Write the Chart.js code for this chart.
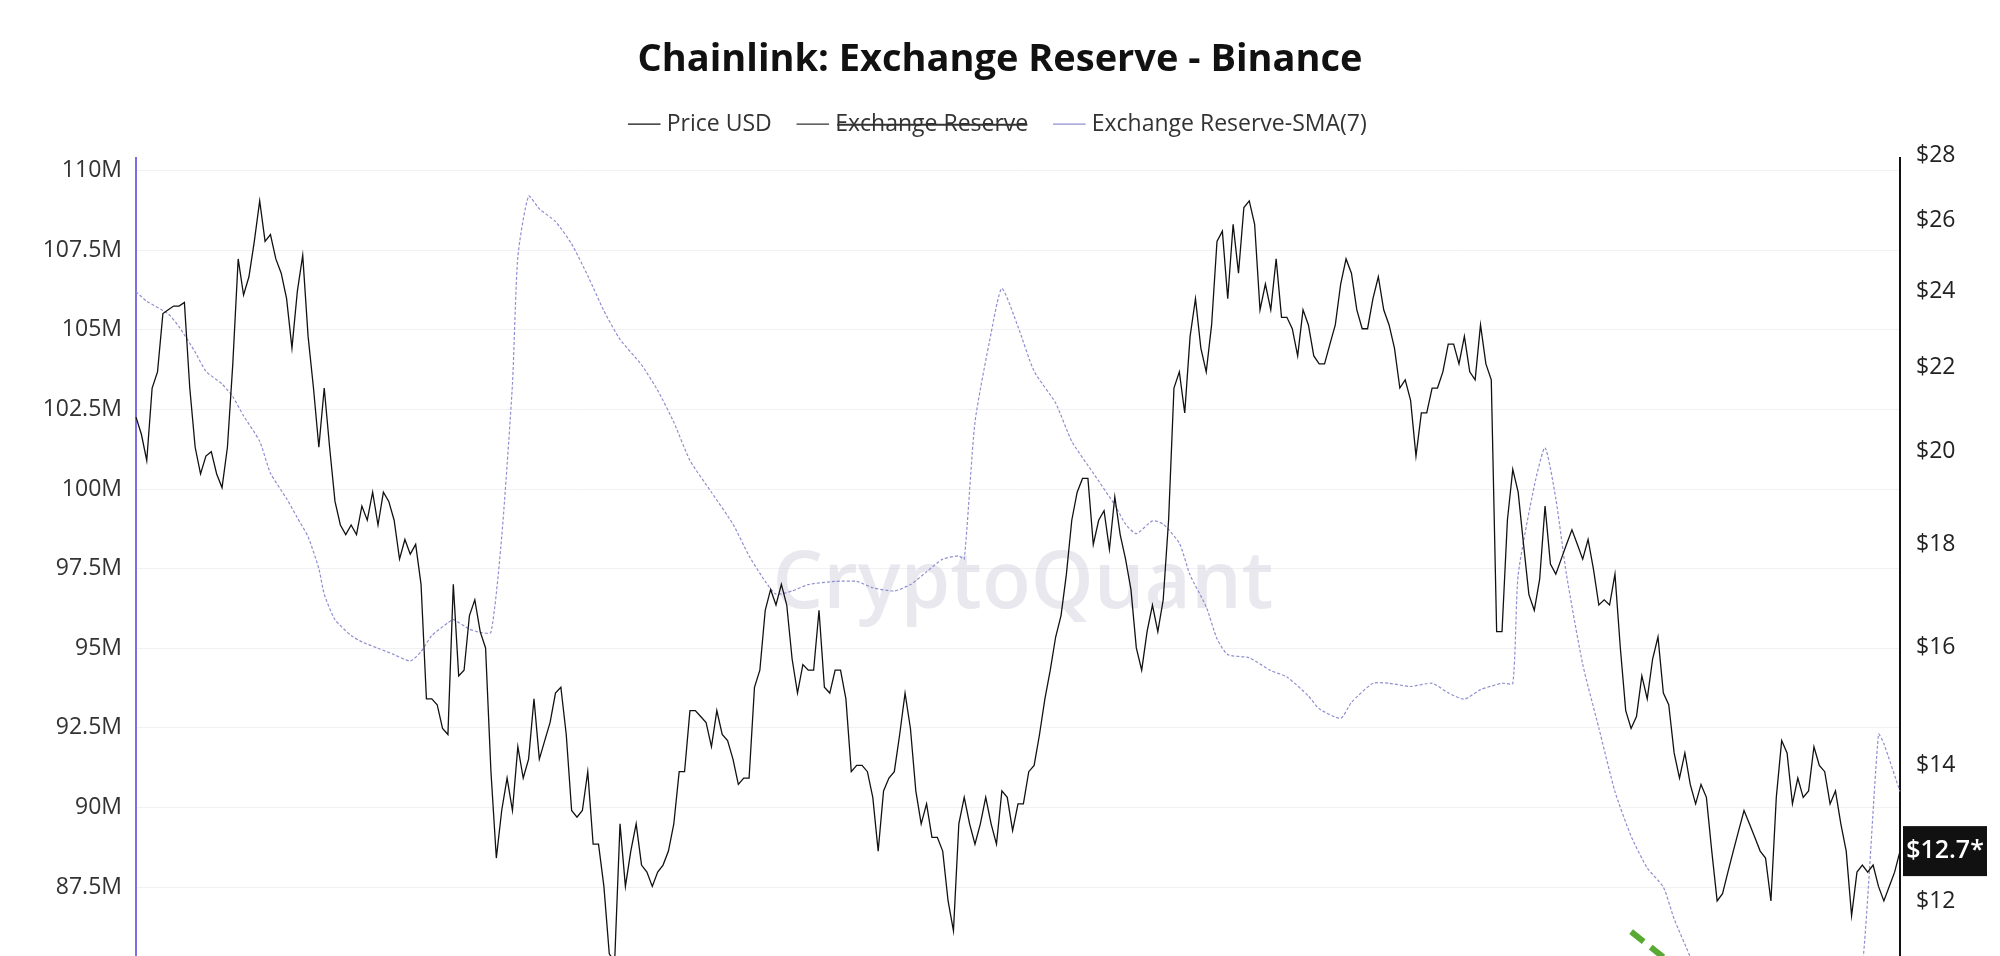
<!DOCTYPE html>
<html>
<head>
<meta charset="utf-8">
<script src="https://cdn.jsdelivr.net/npm/chart.js@4"></script>
<style>
  html, body { margin: 0; padding: 0; background: #fff; overflow: hidden; }
  #wrap { width: 2000px; height: 956px; overflow: hidden; }
</style>
</head>
<body>
<div id="wrap"><canvas id="chart" width="2000" height="1021"></canvas></div>
<script>
// daily LINK price, USD (right axis, log)
const priceUsd = [
  20.8, 20.4, 19.8, 21.5, 21.9, 23.4, 23.5, 23.6, 23.6, 23.7,
  21.5, 20.1, 19.5, 19.9, 20.0, 19.5, 19.2, 20.1, 22.1, 24.9,
  23.9, 24.4, 25.4, 26.6, 25.4, 25.6, 24.9, 24.5, 23.8, 22.5,
  24.0, 25.0, 22.8, 21.5, 20.1, 21.5, 20.1, 18.9, 18.4, 18.2,
  18.4, 18.2, 18.8, 18.5, 19.1, 18.4, 19.1, 18.9, 18.5, 17.7,
  18.1, 17.8, 18.0, 17.2, 15.1, 15.1, 15.0, 14.6, 14.5, 17.2,
  15.5, 15.6, 16.6, 16.9, 16.3, 16.0, 13.9, 12.6, 13.3, 13.8,
  13.3, 14.3, 13.8, 14.1, 15.1, 14.1, 14.4, 14.7, 15.2, 15.3,
  14.5, 13.3, 13.2, 13.3, 13.9, 12.8, 12.8, 12.2, 11.3, 11.2,
  13.1, 12.2, 12.7, 13.1, 12.5, 12.4, 12.2, 12.4, 12.5, 12.7,
  13.1, 13.9, 13.9, 14.9, 14.9, 14.8, 14.7, 14.3, 14.9, 14.5,
  14.4, 14.1, 13.7, 13.8, 13.8, 15.3, 15.6, 16.7, 17.1, 16.8,
  17.2, 16.8, 15.8, 15.2, 15.7, 15.6, 15.6, 16.7, 15.3, 15.2,
  15.6, 15.6, 15.1, 13.9, 14.0, 14.0, 13.9, 13.5, 12.7, 13.6,
  13.8, 13.9, 14.5, 15.2, 14.6, 13.6, 13.1, 13.4, 12.9, 12.9,
  12.7, 12.0, 11.6, 13.1, 13.5, 13.1, 12.8, 13.1, 13.5, 13.1,
  12.8, 13.6, 13.5, 13.0, 13.4, 13.4, 13.9, 14.0, 14.5, 15.1,
  15.6, 16.2, 16.6, 17.4, 18.5, 19.1, 19.4, 19.4, 18.0, 18.5,
  18.7, 17.9, 19.0, 18.2, 17.7, 17.1, 16.0, 15.6, 16.3, 16.8,
  16.3, 16.9, 18.5, 21.5, 21.9, 20.9, 22.8, 23.8, 22.5, 21.9,
  23.1, 25.4, 25.7, 23.8, 25.9, 24.5, 26.4, 26.6, 25.9, 23.5,
  24.2, 23.5, 24.9, 23.3, 23.3, 23.0, 22.3, 23.5, 23.1, 22.3,
  22.1, 22.1, 22.6, 23.1, 24.2, 24.9, 24.5, 23.5, 23.0, 23.0,
  23.8, 24.4, 23.5, 23.1, 22.5, 21.5, 21.7, 21.2, 19.9, 20.9,
  20.9, 21.5, 21.5, 21.9, 22.6, 22.6, 22.1, 22.8, 21.9, 21.7,
  23.1, 22.1, 21.7, 16.3, 16.3, 18.5, 19.6, 19.1, 18.0, 17.0,
  16.7, 17.3, 18.8, 17.6, 17.4, 17.7, 18.0, 18.3, 18.0, 17.7,
  18.1, 17.5, 16.8, 16.9, 16.8, 17.4, 16.0, 14.9, 14.6, 14.8,
  15.5, 15.1, 15.8, 16.2, 15.2, 15.0, 14.2, 13.8, 14.2, 13.7,
  13.4, 13.7, 13.5, 12.7, 12.0, 12.1, 12.4, 12.7, 13.0, 13.3,
  13.1, 12.9, 12.7, 12.6, 12.0, 13.5, 14.4, 14.2, 13.4, 13.8,
  13.5, 13.6, 14.3, 14.0, 13.9, 13.4, 13.6, 13.1, 12.7, 11.8,
  12.4, 12.5, 12.4, 12.5, 12.2, 12.0, 12.2, 12.4, 12.7
];

// exchange reserve SMA(7), millions LINK, read at [day index, value]
const reserveSma7 = [
  [0,106.2],[2,105.9],[6,105.5],[8,105.1],[11,104.3],[13,103.7],[16,103.3],[18,102.9],
  [20,102.3],[23,101.5],[25,100.5],[28,99.7],[30,99.1],[32,98.5],[34,97.5],[35,96.7],
  [37,95.9],[40,95.4],[42,95.2],[45,95.0],[48,94.8],[51,94.6],[53,94.9],[55,95.4],
  [58,95.8],[59,95.9],[62,95.6],[64,95.5],[66,95.5],[68,98.5],[70,103.3],[71,107.3],
  [73,109.2],[75,108.8],[78,108.4],[81,107.7],[84,106.7],[87,105.6],[90,104.7],[94,103.9],
  [97,103.1],[100,102.1],[103,100.9],[107,99.9],[111,98.9],[114,97.9],[117,97.1],[119,96.7],
  [122,96.8],[125,97.0],[130,97.1],[134,97.1],[137,96.9],[141,96.8],[144,97.0],[147,97.4],
  [150,97.8],[153,97.9],[154,97.8],[156,102.1],[159,104.9],[161,106.3],[164,105.1],[167,103.7],
  [171,102.7],[174,101.5],[178,100.5],[182,99.5],[184,98.9],[186,98.6],[189,99.0],[191,98.9],
  [194,98.3],[196,97.3],[199,96.3],[201,95.3],[203,94.8],[207,94.7],[211,94.3],[214,94.1],
  [218,93.5],[220,93.1],[224,92.8],[226,93.3],[230,93.9],[233,93.9],[237,93.8],[241,93.9],
  [244,93.6],[247,93.4],[250,93.7],[254,93.9],[256,93.9],[257,97.3],[260,100.1],[262,101.3],
  [264,99.7],[266,97.3],[269,94.5],[272,92.5],[275,90.5],[278,89.1],[281,88.1],[284,87.5],
  [286,86.5],[289,85.3],[291,84.3],[296,83.5],[302,82.0],[308,81.2],[314,81.5],[318,83.0],
  [321,85.0],[324,92.3],[325,92.0],[328,90.5]
];

// green trend marker, millions on left axis
const trendMarker = [[278,86.1],[284,85.3],[290,84.1]];

const reserveTicks = [85, 87.5, 90, 92.5, 95, 97.5, 100, 102.5, 105, 107.5, 110];
const priceTicks = [12, 14, 16, 18, 20, 22, 24, 26, 28];
const lastPriceLabel = '$12.7*';

const days = priceUsd.map((_, i) => i);
const sparse = pairs => {
  const out = days.map(() => null);
  pairs.forEach(([i, v]) => { out[i] = v; });
  return out;
};

const FONT = "'Open Sans', 'Noto Sans', sans-serif";

const extras = {
  id: 'extras',
  beforeInit(chart) {
    // extra gap under the legend
    const fit = chart.legend.fit;
    chart.legend.fit = function () {
      fit.call(this);
      this.height += 12;
    };
  },
  beforeDatasetsDraw(chart) {
    const { ctx, chartArea } = chart;
    ctx.save();
    ctx.font = `600 80px ${FONT}`;
    ctx.fillStyle = 'rgba(205,205,218,0.45)';
    ctx.textAlign = 'center';
    ctx.textBaseline = 'middle';
    ctx.fillText('CryptoQuant', (chartArea.left + chartArea.right) / 2 + 5, 585);
    ctx.restore();
  },
  afterDraw(chart) {
    const { ctx } = chart;
    const y = chart.scales.y1.getPixelForValue(priceUsd[priceUsd.length - 1]);
    ctx.save();
    ctx.fillStyle = '#111';
    ctx.fillRect(1903, y - 25, 84, 50);
    ctx.fillStyle = '#fff';
    ctx.font = `600 25px ${FONT}`;
    ctx.textAlign = 'center';
    ctx.textBaseline = 'middle';
    ctx.fillText(lastPriceLabel, 1945, y);
    ctx.restore();
  }
};

new Chart(document.getElementById('chart'), {
  type: 'line',
  data: {
    labels: days,
    datasets: [
      {
        label: 'Price USD',
        data: priceUsd,
        yAxisID: 'y1',
        borderColor: '#111',
        borderWidth: 1.3,
        pointRadius: 0,
        tension: 0
      },
      {
        label: 'Exchange Reserve',
        data: sparse(reserveSma7),
        yAxisID: 'y',
        hidden: true,
        borderColor: '#333',
        borderWidth: 1.4,
        pointRadius: 0,
        spanGaps: true
      },
      {
        label: 'Exchange Reserve-SMA(7)',
        data: sparse(reserveSma7),
        yAxisID: 'y',
        borderColor: '#8f8fd0',
        borderWidth: 1.2,
        borderDash: [3, 2],
        pointRadius: 0,
        spanGaps: true,
        tension: 0.2
      },
      {
        label: 'trend',
        data: sparse(trendMarker),
        yAxisID: 'y',
        borderColor: '#58aa35',
        borderWidth: 6,
        borderDash: [16, 9],
        pointRadius: 0,
        spanGaps: true
      }
    ]
  },
  options: {
    responsive: false,
    animation: false,
    devicePixelRatio: 1,
    layout: { padding: { top: 0, bottom: 10, left: 0, right: 0 } },
    plugins: {
      title: {
        display: true,
        text: 'Chainlink: Exchange Reserve - Binance',
        color: '#111',
        font: { family: FONT, size: 38, weight: 'bold' },
        padding: { top: 37, bottom: 0 }
      },
      legend: {
        position: 'top',
        labels: {
          color: '#333',
          font: { family: FONT, size: 23 },
          usePointStyle: true,
          pointStyle: 'line',
          boxWidth: 22,
          padding: 30,
          filter: item => item.text !== 'trend'
        }
      },
      tooltip: { enabled: false }
    },
    scales: {
      x: { type: 'category', display: false },
      y: {
        position: 'left',
        min: 84.23,
        max: 110.41,
        afterFit: s => { s.width = 136; },
        afterBuildTicks: s => { s.ticks = reserveTicks.map(v => ({ value: v })); },
        ticks: {
          color: '#333',
          font: { family: FONT, size: 23 },
          padding: 14,
          callback: v => v + 'M'
        },
        grid: { color: '#f1f1f4', drawTicks: false },
        border: { color: '#7c6fe0', width: 2 }
      },
      y1: {
        type: 'logarithmic',
        position: 'right',
        min: 10.83,
        max: 27.94,
        afterFit: s => { s.width = 100; },
        afterBuildTicks: s => { s.ticks = priceTicks.map(v => ({ value: v })); },
        ticks: {
          color: '#222',
          font: { family: FONT, size: 23 },
          padding: 16,
          callback: v => '$' + v
        },
        grid: { display: false, drawTicks: false },
        border: { color: '#111', width: 2 }
      }
    }
  },
  plugins: [extras]
});
</script>
</body>
</html>
